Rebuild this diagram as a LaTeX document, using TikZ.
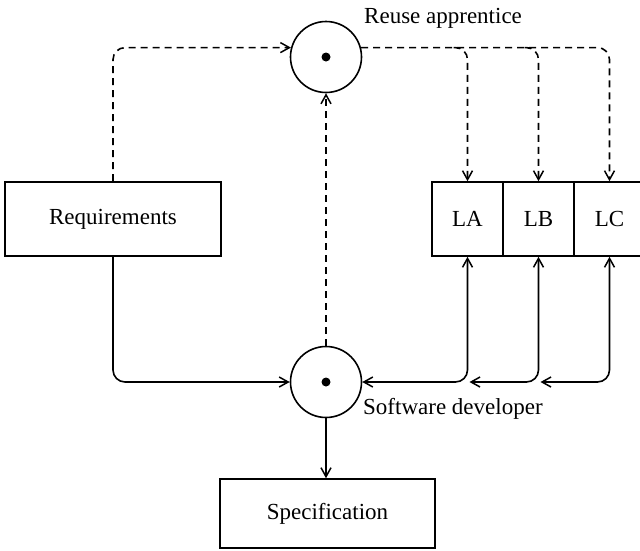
\documentclass[tikz,border=0pt]{standalone}
\usepackage{fontspec}
\setmainfont{Liberation Serif}
\usetikzlibrary{arrows.meta,calc}
\begin{document}
\begin{tikzpicture}[x=1pt,y=-1pt,
  every node/.style={font=\fontsize{23}{27}\selectfont},
  box/.style={draw,line width=1.6pt,inner sep=0pt},
  agent/.style={draw,circle,line width=1.6pt,minimum size=71pt,inner sep=0pt},
  lbl/.style={inner sep=0pt,anchor=base west},
  barb/.tip={Straight Barb[length=9pt,width=10pt,line width=1.5pt]},
  tip/.style={-barb},
  bitip/.style={barb-barb},
  flow/.style={line width=1.6pt,rounded corners=12pt},
  dflow/.style={flow,dash pattern=on 7pt off 5pt}]
\useasboundingbox (0,0) rectangle (640,550);

% boxes
\node[box,minimum width=216pt,minimum height=74pt] (req) at (113,219) {Requirements};
\node[box,minimum width=215pt,minimum height=69pt] (spec) at (327.5,513.5) {Specification};
\node[box,minimum width=71pt,minimum height=74pt] (la) at (467.5,219) {LA};
\node[box,minimum width=71pt,minimum height=74pt] (lb) at (538.5,219) {LB};
\node[box,minimum width=71pt,minimum height=74pt] (lc) at (609.5,219) {LC};

% agents
\node[agent] (ra) at (326,57) {};
\node[agent] (sd) at (326,382) {};
\fill (ra.center) circle (4.5pt);
\fill (sd.center) circle (4.5pt);
\node[lbl] (ralab) at (364,23) {Reuse apprentice};
\node[lbl] (sdlab) at (363,414) {Software developer};

% dashed flows through the reuse apprentice
\draw[dflow,tip] (req.north) |- (ra.165);
\draw[dflow,tip] (sd.north) -- (ra.south);
\draw[dflow,tip] (ra.15) -| (lc.north);
\coordinate (ka) at ($(la.north |- ra.15)+(-14,0)$);
\coordinate (kb) at ($(lb.north |- ra.15)+(-14,0)$);
\draw[dflow,tip] (ka) -| (la.north);
\draw[dflow,tip] (kb) -| (lb.north);

% solid flows through the software developer
\draw[flow,tip] (req.south) |- (sd.west);
\draw[flow,tip] (sd.south) -- (sd.south |- spec.north);
\coordinate (jb) at ($(la.south |- sd.east)+(2,0)$);
\coordinate (jc) at ($(lb.south |- sd.east)+(2,0)$);
\draw[flow,bitip] (sd.east) -| (la.south);
\draw[flow,bitip] (jb) -| (lb.south);
\draw[flow,bitip] (jc) -| (lc.south);
\end{tikzpicture}
\end{document}
